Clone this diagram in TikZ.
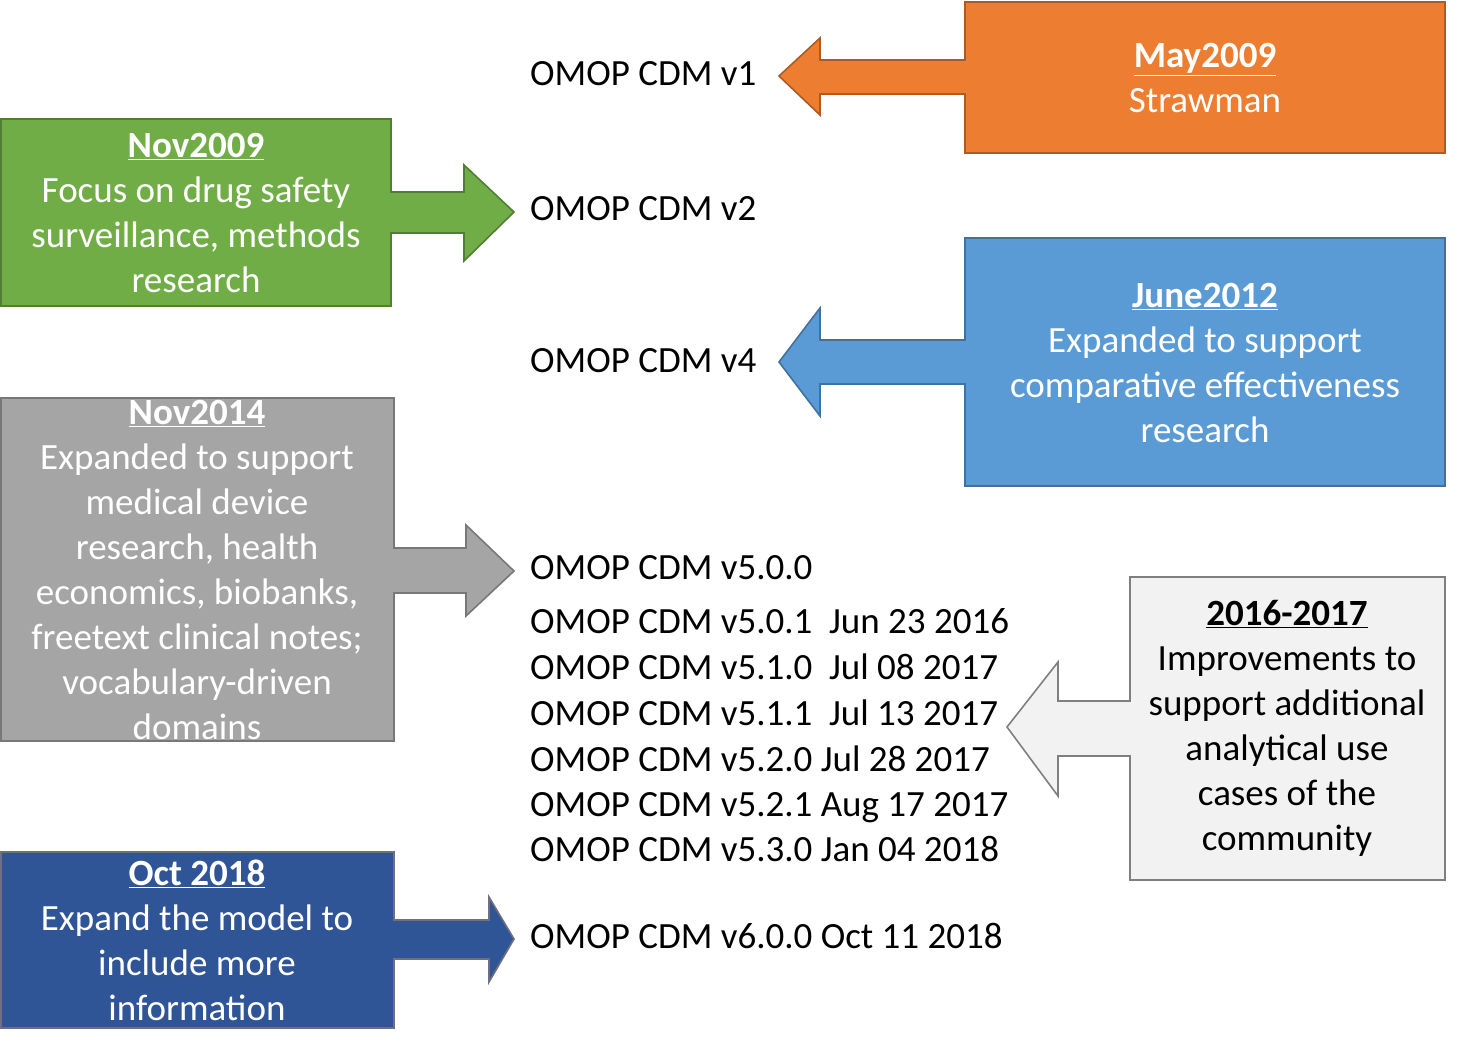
\documentclass[tikz,border=0pt]{standalone}
\usepackage{fontspec}
\setmainfont{Carlito}
\usepackage{xcolor}
\usetikzlibrary{calc, positioning}

\definecolor{orangefill}{HTML}{ED7D31}
\definecolor{orangeline}{HTML}{AE5A21}
\definecolor{greenfill}{HTML}{70AD47}
\definecolor{greenline}{HTML}{507E32}
\definecolor{bluefill}{HTML}{5B9BD5}
\definecolor{blueline}{HTML}{41719C}
\definecolor{grayfill}{HTML}{A5A5A5}
\definecolor{grayline}{HTML}{787878}
\definecolor{lightfill}{HTML}{F2F2F2}
\definecolor{lightline}{HTML}{7F7F7F}
\definecolor{navyfill}{HTML}{2F5597}
\definecolor{navyline}{HTML}{6F6F7F}

\begin{document}
\begin{tikzpicture}[x=1pt,y=-1pt,
                    version/.style={anchor=base west,inner sep=0pt,font=\fontsize{37}{45.5}\selectfont},
                    box text/.style={align=center,inner sep=0pt,text=white,font=\fontsize{37}{45}\selectfont},
                    callout/.style={line width=1.6pt,line join=miter}]

  \useasboundingbox (0,0) rectangle (1459,1053);

  % callouts
  \draw[callout,draw=orangeline,fill=orangefill]
    (965,2) -- (1445,2) -- (1445,153) -- (965,153) -- (965,94) -- (820,94) -- (820,115)
    -- (779,76) -- (820,38) -- (820,60) -- (965,60) -- cycle;
  \draw[callout,draw=greenline,fill=greenfill]
    (1,119) -- (391,119) -- (391,192) -- (464,192) -- (464,165) -- (514,212)
    -- (464,261) -- (464,233) -- (391,233) -- (391,306) -- (1,306) -- cycle;
  \draw[callout,draw=blueline,fill=bluefill]
    (965,238) -- (1445,238) -- (1445,486) -- (965,486) -- (965,384) -- (820,384) -- (820,416)
    -- (779,362) -- (820,308) -- (820,340) -- (965,340) -- cycle;
  \draw[callout,draw=grayline,fill=grayfill]
    (1,398) -- (394,398) -- (394,548) -- (466,548) -- (466,525) -- (514,571)
    -- (466,616) -- (466,593) -- (394,593) -- (394,741) -- (1,741) -- cycle;
  \draw[callout,draw=lightline,fill=lightfill]
    (1130,577) -- (1445,577) -- (1445,880) -- (1130,880) -- (1130,756) -- (1058,756) -- (1058,796)
    -- (1007,727) -- (1058,662) -- (1058,701) -- (1130,701) -- cycle;
  \draw[callout,draw=navyline,fill=navyfill]
    (1,852) -- (394,852) -- (394,920) -- (489,920) -- (489,897) -- (514,939)
    -- (489,982) -- (489,959) -- (394,959) -- (394,1028) -- (1,1028) -- cycle;

  % callout texts
  \node[box text] (may09) at (1205,78) {\underline{\textbf{May2009}}\\Strawman};
  \node[box text] (nov09) at (196,213) {\underline{\textbf{Nov2009}}\\Focus on drug safety\\surveillance, methods\\research};
  \node[box text] (jun12) at (1205,363) {\underline{\textbf{June2012}}\\Expanded to support\\comparative effectiveness\\research};
  \node[box text] (nov14) at (197,570) {\underline{\textbf{Nov2014}}\\Expanded to support\\medical device\\research, health\\economics, biobanks,\\freetext clinical notes;\\vocabulary-driven\\domains};
  \node[box text,text=black] (upd17) at (1287,728) {\underline{\textbf{2016-2017}}\\Improvements to\\support additional\\analytical use\\cases of the\\community};
  \node[box text] (oct18) at (197,940) {\underline{\textbf{Oct 2018}}\\Expand the model to\\include more\\information};

  % versions
  \node[version] (v1) at (530,85) {OMOP CDM v1};
  \node[version] (v2) at (530,220) {OMOP CDM v2};
  \node[version] (v4) at (530,372) {OMOP CDM v4};
  \node[version] (v500) at (530,579) {OMOP CDM v5.0.0};
  \node[version] (v501) at (530,633) {OMOP CDM v5.0.1\ \ Jun 23 2016};
  \node[version] (v510) at (530,679) {OMOP CDM v5.1.0\ \ Jul 08 2017};
  \node[version] (v511) at (530,725) {OMOP CDM v5.1.1\ \ Jul 13 2017};
  \node[version] (v520) at (530,771) {OMOP CDM v5.2.0 Jul 28 2017};
  \node[version] (v521) at (530,816) {OMOP CDM v5.2.1 Aug 17 2017};
  \node[version] (v530) at (530,861) {OMOP CDM v5.3.0 Jan 04 2018};
  \node[version] (v600) at (530,948) {OMOP CDM v6.0.0 Oct 11 2018};

\end{tikzpicture}
\end{document}
